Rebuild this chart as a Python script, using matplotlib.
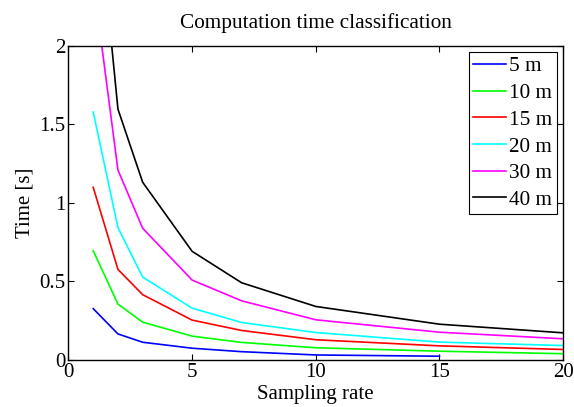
import numpy as np
import matplotlib
matplotlib.use('Agg')
from matplotlib import pyplot as plt

# sampling rates and computation times (s) per distance class
rate = [1, 2, 3, 5, 7, 10, 15, 20]
rate_5m = [1, 2, 3, 5, 7, 10, 15]
t_5m = [0.327, 0.166, 0.113, 0.075, 0.053, 0.032, 0.024]
t_10m = [0.696, 0.356, 0.241, 0.152, 0.112, 0.078, 0.056, 0.040]
t_15m = [1.10, 0.577, 0.416, 0.254, 0.188, 0.129, 0.090, 0.067]
t_20m = [1.58, 0.843, 0.528, 0.330, 0.239, 0.175, 0.114, 0.092]
t_30m = [2.42, 1.21, 0.839, 0.509, 0.377, 0.256, 0.177, 0.135]
t_40m = [3.20, 1.598, 1.132, 0.692, 0.492, 0.341, 0.228, 0.173]
labels = ['5 m', '10 m', '15 m', '20 m', '30 m', '40 m']

plt.rcParams['font.family'] = ['Liberation Serif', 'DejaVu Serif']

fig = plt.figure(figsize=(5.74, 4.07), dpi=100)
ax = fig.add_axes([0.1193, 0.1155, 0.8617, 0.7715])

ax.plot(rate_5m, t_5m, color='#0000ff', lw=1.2, label=labels[0])
ax.plot(rate, t_10m, color='#00ff00', lw=1.2, label=labels[1])
ax.plot(rate, t_15m, color='#ff0000', lw=1.2, label=labels[2])
ax.plot(rate, t_20m, color='#00ffff', lw=1.2, label=labels[3])
ax.plot(rate, t_30m, color='#ff00ff', lw=1.2, label=labels[4])
ax.plot(rate, t_40m, color='#000000', lw=1.2, label=labels[5])

ax.set_xlim(0, 20)
ax.set_ylim(0, 2)
ax.set_xticks([0, 5, 10, 15, 20])
ax.set_yticks([0, 0.5, 1, 1.5, 2])
ax.set_yticklabels(['0', '0.5', '1', '1.5', '2'])
ax.tick_params(direction='in', top=True, right=True, length=4, width=0.8,
               labelsize=15, pad=2)
for s in ax.spines.values():
    s.set_linewidth(1.0)

ax.set_title('Computation time classification', fontsize=15.3, pad=13)
ax.set_xlabel('Sampling rate', fontsize=15, labelpad=2.5)
ax.set_ylabel('Time [s]', fontsize=15, labelpad=4)

leg = ax.legend(loc='upper right', fontsize=15.3, frameon=True, fancybox=False,
                edgecolor='black', framealpha=1, handlelength=1.55,
                handletextpad=0.15, borderpad=0.2, labelspacing=0.32,
                borderaxespad=0.3)
leg.get_frame().set_linewidth(0.8)

fig.savefig('out.png', dpi=100)
